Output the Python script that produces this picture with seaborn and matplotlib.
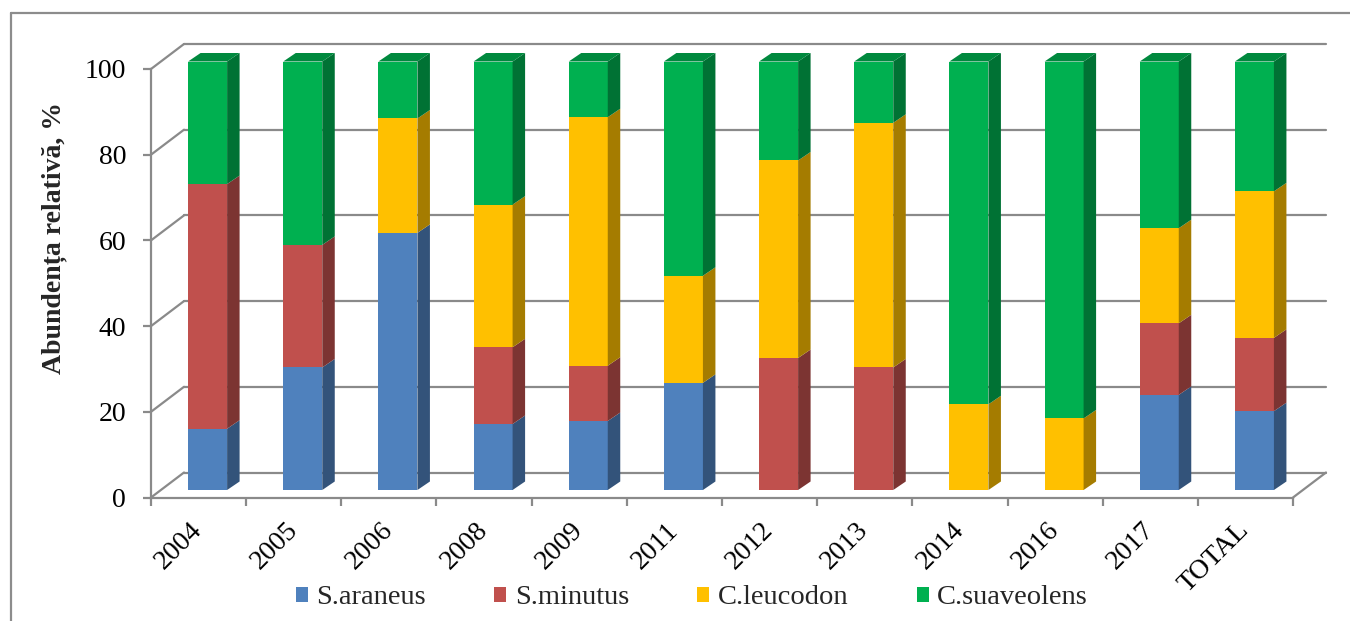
import numpy as np
import seaborn as sns
import matplotlib.pyplot as plt
from matplotlib.patches import Polygon, Patch
from matplotlib.lines import Line2D
from matplotlib.transforms import ScaledTranslation

# Relative abundance (%) of shrew species per sampling year
years = ['2004', '2005', '2006', '2008', '2009', '2011', '2012', '2013',
         '2014', '2016', '2017', 'TOTAL']
s_araneus = [14.3, 28.6, 60.0, 15.4, 16.1, 25.0, 0.0, 0.0, 0.0, 0.0, 22.2, 18.4]
s_minutus = [57.1, 28.6, 0.0, 17.9, 12.9, 0.0, 30.8, 28.6, 0.0, 0.0, 16.7, 17.1]
c_leucodon = [0.0, 0.0, 26.7, 33.3, 58.0, 25.0, 46.1, 57.1, 20.0, 16.7, 22.2, 34.2]
c_suaveolens = [28.6, 42.8, 13.3, 33.4, 13.0, 50.0, 23.1, 14.3, 80.0, 83.3, 38.9, 30.3]
species = ['S.araneus', 'S.minutus', 'C.leucodon', 'C.suaveolens']
y_ticks = [0, 20, 40, 60, 80, 100]
y_label = 'Abundența relativă, %'

colors = ['#4F81BD', '#C0504D', '#FFC000', '#00B050']
grid_col = '#8A8A8A'


def shade(hex_color, f):
    r, g, b = (int(hex_color[i:i + 2], 16) for i in (1, 3, 5))
    return '#{:02X}{:02X}{:02X}'.format(int(r * f), int(g * f), int(b * f))


side_colors = [shade(c, 0.65) for c in colors]
top_colors = [shade(c, 0.78) for c in colors]

# Figure geometry (pixels at 100 dpi)
DPI = 100
FW, FH = 1350, 621
fig = plt.figure(figsize=(FW / DPI, FH / DPI), dpi=DPI)

sns.set_theme(style='white')
plt.rcParams['font.family'] = ['Liberation Serif', 'DejaVu Serif']

# front plane of the 3-D box
L, R, B, T = 151, 1293, 497.5, 69
ax = fig.add_axes([L / FW, 1 - B / FH, (R - L) / FW, (B - T) / FH])
ax.set_facecolor('white')

n = len(years)
ux = (R - L) / n          # px per category
uy = (B - T) / 100.0      # px per percent


def to_data(px, py):
    return px / ux, py / uy


back_dx, back_dy = to_data(33, 25)     # depth of the whole box
side_dx, side_dy = to_data(12.5, 8.5)  # depth of each column
bar_width = 0.41
bar_shift = ScaledTranslation(9 / DPI, 7.5 / DPI, fig.dpi_scale_trans)
bar_trans = ax.transData + bar_shift

# back wall gridlines, side wall diagonals, floor edge
for v in y_ticks:
    ax.plot([-0.5 + back_dx, n - 0.5 + back_dx], [v + back_dy, v + back_dy],
            color=grid_col, lw=1.6, clip_on=False, zorder=1)
    ax.plot([-0.5, -0.5 + back_dx], [v, v + back_dy],
            color=grid_col, lw=1.6, clip_on=False, zorder=1)
ax.plot([n - 0.5, n - 0.5 + back_dx], [0, back_dy],
        color=grid_col, lw=1.6, clip_on=False, zorder=1)

# stacked column fronts, drawn from the full height downwards
values = np.array([s_araneus, s_minutus, c_leucodon, c_suaveolens])
cum = np.cumsum(values, axis=0)
for k in reversed(range(len(species))):
    sns.barplot(x=years, y=cum[k], color=colors[k], saturation=1,
                width=bar_width, errorbar=None, linewidth=0, ax=ax, zorder=3)
for p in ax.patches:
    p.set_transform(bar_trans)
    p.set_clip_on(False)

# column sides and tops
for i in range(n):
    xr = i + bar_width / 2
    xl = i - bar_width / 2
    top_k = len(species) - 1
    for k in range(len(species)):
        b = cum[k - 1][i] if k > 0 else 0.0
        t = cum[k][i]
        if t - b <= 0.01:
            continue
        ax.add_patch(Polygon([(xr, b), (xr + side_dx, b + side_dy),
                              (xr + side_dx, t + side_dy), (xr, t)],
                             closed=True, facecolor=side_colors[k],
                             edgecolor='none', transform=bar_trans,
                             clip_on=False, zorder=3))
        top_k = k
    ax.add_patch(Polygon([(xl, 100), (xr, 100), (xr + side_dx, 100 + side_dy),
                          (xl + side_dx, 100 + side_dy)],
                         closed=True, facecolor=top_colors[top_k],
                         edgecolor='none', transform=bar_trans,
                         clip_on=False, zorder=3))

ax.set_xlim(-0.5, n - 0.5)
ax.set_ylim(0, 100)
ax.set_xlabel('')
ax.set_ylabel('')

for side in ['top', 'right']:
    ax.spines[side].set_visible(False)
for side in ['left', 'bottom']:
    ax.spines[side].set_color(grid_col)
    ax.spines[side].set_linewidth(1.6)
    ax.spines[side].set_zorder(2)

ax.set_yticks(y_ticks)
ax.set_yticklabels([str(v) for v in y_ticks])
ax.tick_params(axis='y', direction='out', length=6, width=1.6, color=grid_col,
               labelsize=20, pad=12, left=True, labelcolor='black')

ax.set_xticks(range(n))
ax.set_xticklabels(years, rotation=45, ha='right', va='center',
                   rotation_mode='anchor')
ax.set_xticks(np.arange(-0.5, n, 1.0), minor=True)
ax.tick_params(axis='x', which='major', length=0, labelsize=20, pad=21,
               labelcolor='black')
ax.tick_params(axis='x', which='minor', direction='out', length=6, width=1.6,
               color=grid_col, bottom=True)

fig.text(54 / FW, 1 - 238 / FH, y_label, rotation=90, fontsize=20,
         fontweight='bold', ha='center', va='center')

handles = [Patch(facecolor=c, edgecolor='none', label=s)
           for c, s in zip(colors, species)]
fig.legend(handles=handles, loc='center', bbox_to_anchor=(692 / FW, 1 - 598 / FH),
           ncol=4, frameon=False, fontsize=20.5, handlelength=0.42,
           handleheight=0.45, handletextpad=0.3, columnspacing=2.4,
           borderpad=0)

# chart frame
fig.add_artist(Line2D([11 / FW, 11 / FW], [0, 1 - 13 / FH],
                      transform=fig.transFigure, color='#8C8C8C', lw=1.6))
fig.add_artist(Line2D([11 / FW, 1], [1 - 13 / FH, 1 - 13 / FH],
                      transform=fig.transFigure, color='#8C8C8C', lw=1.6))

fig.savefig('out.png', dpi=DPI, facecolor='white')
